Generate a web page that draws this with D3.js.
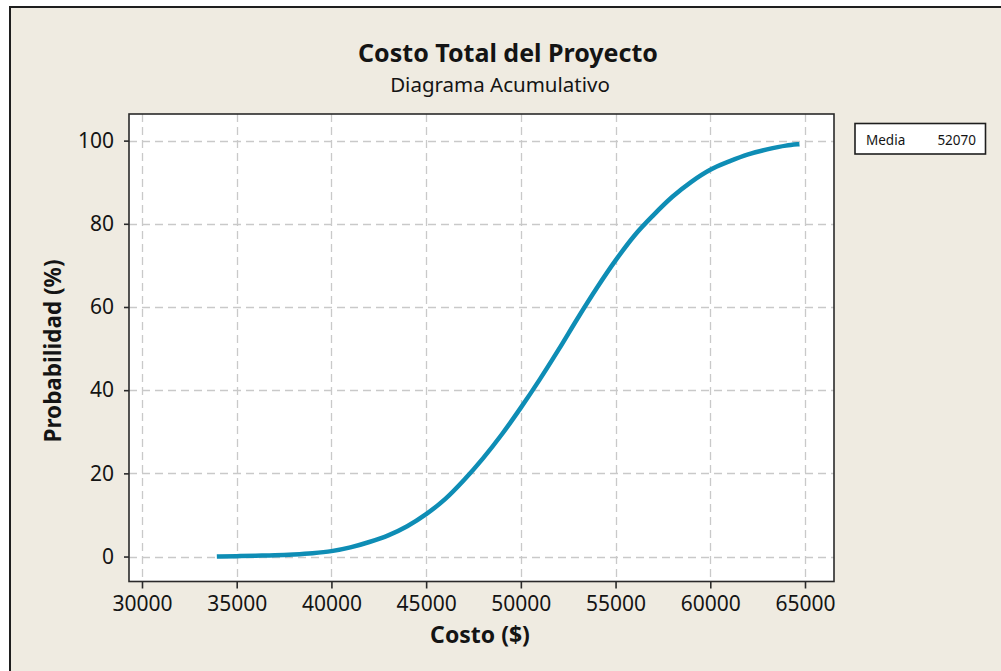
<!DOCTYPE html>
<html>
<head>
<meta charset="utf-8">
<script src="https://cdn.jsdelivr.net/npm/d3@7"></script>
<style>
  html, body { margin: 0; padding: 0; background: #ffffff; }
  svg { display: block; }
  text { font-family: "Noto Sans", "DejaVu Sans", sans-serif; fill: #141414; }
</style>
</head>
<body>
<svg id="chart" width="1001" height="671"></svg>
<script>
// ---- data ----
const costValues = [34070, 35000, 36000, 37000, 38000, 39000, 40000, 41000, 42000, 43000, 44000,
  45000, 46000, 47000, 48000, 49000, 50000, 51000, 52000, 53000, 54000, 55000, 56000, 57000,
  58000, 59000, 60000, 61000, 62000, 63000, 64000, 64590];
const probValues = [0.0, 0.1, 0.2, 0.3, 0.5, 0.8, 1.3, 2.2, 3.5, 5.1, 7.3,
  10.2, 13.8, 18.4, 23.6, 29.4, 35.8, 42.6, 49.8, 57.3, 64.5, 71.2, 77.2, 82.1,
  86.5, 90.1, 93.0, 95.0, 96.7, 97.9, 98.8, 99.1];
const xTicks = [30000, 35000, 40000, 45000, 50000, 55000, 60000, 65000];
const yTicks = [0, 20, 40, 60, 80, 100];
const titleText = "Costo Total del Proyecto";
const subtitleText = "Diagrama Acumulativo";
const xLabel = "Costo ($)";
const yLabel = "Probabilidad (%)";
const legendLabel = "Media";
const legendValue = "52070";

const svg = d3.select("#chart");
const W = 1001, H = 671;

// outer panel
svg.append("rect").attr("x", 0).attr("y", 0).attr("width", W).attr("height", H).attr("fill", "#ffffff");
svg.append("rect").attr("x", 10).attr("y", 7).attr("width", W).attr("height", H).attr("fill", "#efebe1");
svg.append("path").attr("d", `M10,${H} L10,7 L${W},7`).attr("fill", "none").attr("stroke", "#1e1e1e").attr("stroke-width", 2);

const plot = { left: 129, right: 834, top: 114, bottom: 581.5 };

const x = d3.scaleLinear().domain([29314, 66531]).range([plot.left, plot.right]);
const y = d3.scaleLinear().domain([-6, 106.4]).range([plot.bottom, plot.top]);

// plot background
svg.append("rect").attr("x", plot.left).attr("y", plot.top)
  .attr("width", plot.right - plot.left).attr("height", plot.bottom - plot.top)
  .attr("fill", "#ffffff");

// grid
const grid = svg.append("g").attr("stroke", "#c9c9c9").attr("stroke-width", 1.3).attr("stroke-dasharray", "8,5");
grid.selectAll("line.gx").data(xTicks).join("line")
  .attr("x1", d => Math.round(x(d)) + 0.5).attr("x2", d => Math.round(x(d)) + 0.5)
  .attr("y1", plot.top).attr("y2", plot.bottom);
grid.selectAll("line.gy").data(yTicks).join("line")
  .attr("y1", d => Math.round(y(d)) + 0.5).attr("y2", d => Math.round(y(d)) + 0.5)
  .attr("x1", plot.left).attr("x2", plot.right);

// curve
const line = d3.line().x((d, i) => x(costValues[i])).y(d => y(d)).curve(d3.curveMonotoneX);
svg.append("path").datum(probValues).attr("d", line)
  .attr("fill", "none").attr("stroke", "#0e8db5").attr("stroke-width", 4.5)
  .attr("stroke-linecap", "square");

// frame
svg.append("rect").attr("x", plot.left).attr("y", plot.top)
  .attr("width", plot.right - plot.left).attr("height", plot.bottom - plot.top)
  .attr("fill", "none").attr("stroke", "#2a2a2a").attr("stroke-width", 1.6);

// axes
const xAxis = d3.axisBottom(x).tickValues(xTicks).tickSize(7).tickPadding(6).tickFormat(d3.format("d"));
const gx = svg.append("g").attr("transform", `translate(0,${plot.bottom})`).call(xAxis);
gx.select(".domain").remove();
gx.selectAll(".tick line").attr("stroke", "#2a2a2a").attr("stroke-width", 1.6);
gx.selectAll(".tick text").attr("font-size", 21).attr("font-family", "Noto Sans").attr("fill", "#141430").attr("dy", "0.78em");

const yAxis = d3.axisLeft(y).tickValues(yTicks).tickSize(5).tickPadding(10).tickFormat(d3.format("d"));
const gy = svg.append("g").attr("transform", `translate(${plot.left},0)`).call(yAxis);
gy.select(".domain").remove();
gy.selectAll(".tick line").attr("stroke", "#2a2a2a").attr("stroke-width", 1.6);
gy.selectAll(".tick text").attr("font-size", 21).attr("font-family", "Noto Sans").attr("fill", "#141430");

// titles
svg.append("text").attr("x", 508).attr("y", 62).attr("text-anchor", "middle")
  .attr("font-size", 25).attr("font-weight", "bold").text(titleText);
svg.append("text").attr("x", 500).attr("y", 92).attr("text-anchor", "middle")
  .attr("font-size", 20.5).text(subtitleText);
svg.append("text").attr("x", 480).attr("y", 643).attr("text-anchor", "middle")
  .attr("font-size", 23).attr("font-weight", "bold").text(xLabel);
svg.append("text").attr("transform", "translate(61,351) rotate(-90)").attr("text-anchor", "middle")
  .attr("font-size", 22.5).attr("font-weight", "bold").text(yLabel);

// legend box
svg.append("rect").attr("x", 855).attr("y", 123.5).attr("width", 130.5).attr("height", 30.5)
  .attr("fill", "#ffffff").attr("stroke", "#1e1e1e").attr("stroke-width", 1.6);
svg.append("text").attr("x", 866).attr("y", 145).attr("font-size", 13.5).text(legendLabel);
svg.append("text").attr("x", 976).attr("y", 145).attr("text-anchor", "end").attr("font-size", 13.5).text(legendValue);
</script>
</body>
</html>
